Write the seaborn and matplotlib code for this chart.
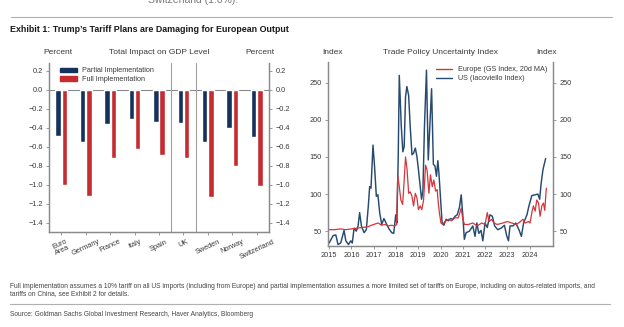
import matplotlib
matplotlib.use("Agg")
import matplotlib.pyplot as plt
import matplotlib.lines as mlines
import seaborn as sns
import pandas as pd
from matplotlib.patches import Patch

# ---------------- data ----------------
countries = ["Euro\nArea", "Germany", "France", "Italy", "Spain", "UK", "Sweden", "Norway", "Switzerland"]
partial_impl = [-0.49, -0.55, -0.36, -0.31, -0.34, -0.35, -0.55, -0.40, -0.50]
full_impl = [-1.00, -1.12, -0.72, -0.63, -0.69, -0.72, -1.13, -0.81, -1.02]
bar_series = ["Partial Implementation", "Full Implementation"]
left_yticks = [0.2, 0.0, -0.2, -0.4, -0.6, -0.8, -1.0, -1.2, -1.4]

us_dates = [2015.0, 2015.18, 2015.3, 2015.4, 2015.52, 2015.67, 2015.75, 2015.87, 2015.97, 2016.04,
            2016.12, 2016.22, 2016.3, 2016.37, 2016.45, 2016.57, 2016.67, 2016.76, 2016.82, 2016.88,
            2016.97, 2017.04, 2017.12, 2017.19, 2017.27, 2017.36, 2017.46, 2017.57, 2017.69, 2017.81,
            2017.9, 2017.99, 2018.04, 2018.1, 2018.15, 2018.24, 2018.31, 2018.37, 2018.43, 2018.49,
            2018.57, 2018.64, 2018.72, 2018.79, 2018.87, 2018.94, 2019.01, 2019.09, 2019.15, 2019.21,
            2019.28, 2019.37, 2019.45, 2019.52, 2019.6, 2019.68, 2019.75, 2019.82, 2019.88, 2019.93,
            2020.0, 2020.07, 2020.15, 2020.25, 2020.35, 2020.45, 2020.55, 2020.65, 2020.75, 2020.85,
            2020.93, 2021.0, 2021.07, 2021.15, 2021.3, 2021.45, 2021.55, 2021.63, 2021.72, 2021.82,
            2021.9, 2022.0, 2022.1, 2022.22, 2022.33, 2022.43, 2022.57, 2022.72, 2022.87, 2022.97,
            2023.05, 2023.12, 2023.25, 2023.38, 2023.52, 2023.63, 2023.73, 2023.88, 2023.97, 2024.1,
            2024.25, 2024.37, 2024.45, 2024.52, 2024.6, 2024.72]
us_values = [34, 44, 45, 32, 34, 51, 37, 32, 37, 34,
             54, 50, 57, 75, 57, 48, 52, 84, 110, 108,
             166, 137, 97, 99, 75, 59, 67, 60, 53, 48,
             47, 72, 61, 146, 260, 191, 157, 164, 231, 245,
             233, 191, 153, 155, 162, 151, 133, 110, 93, 104,
             191, 267, 146, 191, 242, 140, 138, 124, 145, 128,
             95, 62, 58, 66, 64, 67, 66, 70, 72, 82,
             99, 72, 39, 48, 50, 57, 43, 61, 47, 51,
             37, 61, 55, 72, 70, 57, 52, 54, 58, 44,
             37, 57, 57, 61, 52, 43, 61, 72, 84, 98,
             99, 100, 93, 115, 133, 148]

eu_dates = [2015.0, 2015.25, 2015.5, 2015.75, 2016.0, 2016.25, 2016.5, 2016.75, 2016.9, 2017.0,
            2017.1, 2017.2, 2017.35, 2017.5, 2017.65, 2017.8, 2017.95, 2018.03, 2018.08, 2018.15,
            2018.22, 2018.3, 2018.37, 2018.43, 2018.5, 2018.57, 2018.64, 2018.72, 2018.79, 2018.87,
            2018.94, 2019.01, 2019.09, 2019.16, 2019.24, 2019.33, 2019.4, 2019.48, 2019.55, 2019.63,
            2019.7, 2019.78, 2019.85, 2019.9, 2019.95, 2020.02, 2020.1, 2020.2, 2020.35, 2020.5,
            2020.65, 2020.8, 2020.93, 2021.0, 2021.08, 2021.25, 2021.45, 2021.65, 2021.85, 2022.0,
            2022.1, 2022.18, 2022.3, 2022.4, 2022.55, 2022.8, 2023.0, 2023.2, 2023.4, 2023.55,
            2023.7, 2023.8, 2023.95, 2024.02, 2024.1, 2024.17, 2024.25, 2024.32, 2024.4, 2024.47,
            2024.55, 2024.62, 2024.68, 2024.75]
eu_values = [52, 52, 53, 52, 53, 54, 55, 56, 58, 59,
             60, 61, 58, 59, 57, 58, 57, 59, 126, 110,
             92, 86, 119, 150, 133, 101, 103, 97, 84, 101,
             95, 79, 84, 79, 92, 139, 132, 101, 126, 110,
             119, 104, 106, 88, 75, 61, 59, 63, 66, 64,
             68, 68, 81, 66, 59, 59, 61, 57, 61, 59,
             75, 63, 66, 61, 59, 61, 63, 61, 59, 62,
             66, 61, 63, 61, 75, 84, 77, 92, 88, 70,
             84, 88, 78, 108]
line_series = ["Europe (GS Index, 20d MA)", "US (Iacoviello Index)"]
right_yticks = [50, 100, 150, 200, 250]
year_ticks = list(range(2015, 2025))

# ---------------- style ----------------
sns.set_style("ticks")
plt.rcParams["font.family"] = ["Liberation Sans", "DejaVu Sans"]
navy = "#13325c"
red = "#c42c30"
us_col = "#264a70"
eu_col = "#d5353b"
grey = "#8a8a8a"
txt = "#3a3a3a"

W, H = 624, 327
fig = plt.figure(figsize=(W / 100, H / 100), dpi=100)

def fx(px):
    return px / W

def fy(py):
    return 1 - py / H

# top cut-off text and rule
fig.text(fx(148), fy(5), "Switzerland (1.0%).", fontsize=7.5, color="#777777",
         ha="left", va="bottom")
fig.add_artist(mlines.Line2D([fx(11), fx(612)], [fy(17), fy(17)], color="#b0b0b0", lw=0.8))
fig.text(fx(10), fy(29), "Exhibit 1: Trump\u2019s Tariff Plans are Damaging for European Output",
         fontsize=6.4, fontweight="bold", color="#1a1a1a", ha="left", va="center")

# ---------------- left chart ----------------
axL = fig.add_axes([fx(49), fy(232), fx(220), (232 - 63) / H])
df_bar = pd.DataFrame({
    "country": countries * 2,
    "series": [bar_series[0]] * len(countries) + [bar_series[1]] * len(countries),
    "value": partial_impl + full_impl,
})
sns.barplot(data=df_bar, x="country", y="value", hue="series", hue_order=bar_series,
            palette=[navy, red], width=0.52, gap=0.13, ax=axL, legend=False,
            saturation=1, errorbar=None)
axL.set_xlim(-0.5, len(countries) - 0.5)
axL.set_ylim(-1.5, 0.28)
axL.set_yticks(left_yticks)
axL.set_yticklabels([f"{v:.1f}".replace("-", "\u2212") for v in left_yticks])
axL.axhline(0, color=grey, lw=0.8, zorder=0)
axL.axvline(4.5, color="#a0a0a0", lw=0.8)
axL.axvline(5.5, color="#a0a0a0", lw=0.8)
axL.set_xlabel("")
axL.set_ylabel("")
axL.set_xticks(range(len(countries)))
axL.set_xticklabels(countries, rotation=25, ha="center", fontsize=5.3, color=txt,
                    linespacing=0.9)
axR2 = axL.twinx()
axR2.set_ylim(axL.get_ylim())
axR2.set_yticks(left_yticks)
axR2.set_yticklabels([f"{v:.1f}".replace("-", "\u2212") for v in left_yticks])
for a in (axL, axR2):
    a.spines["top"].set_visible(False)
    for s in ("left", "right", "bottom"):
        a.spines[s].set_color(grey)
        a.spines[s].set_linewidth(0.9)
    a.tick_params(axis="both", length=2.5, width=0.6, color=grey, labelsize=5.3,
                  labelcolor=txt, pad=2)
handlesL = [Patch(color=navy, label=bar_series[0]), Patch(color=red, label=bar_series[1])]
axL.legend(handles=handlesL, loc="upper left", bbox_to_anchor=(0.03, 1.0), frameon=False,
           fontsize=5.2, handlelength=2.3, handleheight=0.55, labelspacing=0.25,
           handletextpad=0.8, borderaxespad=0.2, labelcolor=txt)

fig.text(fx(58), fy(52), "Percent", fontsize=6, color=txt, ha="center", va="center")
fig.text(fx(159), fy(52), "Total Impact on GDP Level", fontsize=6, color=txt, ha="center", va="center")
fig.text(fx(260), fy(52), "Percent", fontsize=6, color=txt, ha="center", va="center")

# ---------------- right chart ----------------
axT = fig.add_axes([fx(328), fy(246), fx(225), (246 - 62) / H])
df_us = pd.DataFrame({"date": us_dates, "value": us_values})
df_eu = pd.DataFrame({"date": eu_dates, "value": eu_values})
sns.lineplot(data=df_us, x="date", y="value", color=us_col, lw=1.05, ax=axT)
sns.lineplot(data=df_eu, x="date", y="value", color=eu_col, lw=0.9, ax=axT)
axT.set_xlim(2014.95, 2025.05)
axT.set_ylim(30, 278)
axT.set_yticks(right_yticks)
axT.set_xticks(year_ticks)
axT.set_xticklabels([str(y) for y in year_ticks])
axT.set_xlabel("")
axT.set_ylabel("")
axT2 = axT.twinx()
axT2.set_ylim(axT.get_ylim())
axT2.set_yticks(right_yticks)
for a in (axT, axT2):
    a.spines["top"].set_visible(False)
    for s in ("left", "right", "bottom"):
        a.spines[s].set_color(grey)
        a.spines[s].set_linewidth(0.9)
    a.tick_params(axis="both", length=2.5, width=0.6, color=grey, labelsize=5.3,
                  labelcolor=txt, pad=2)
handlesT = [mlines.Line2D([], [], color=eu_col, lw=1.0, label=line_series[0]),
            mlines.Line2D([], [], color=us_col, lw=1.0, label=line_series[1])]
axT.legend(handles=handlesT, loc="upper left", bbox_to_anchor=(0.46, 1.0), frameon=False,
           fontsize=5.2, handlelength=2.2, labelspacing=0.25, handletextpad=0.8,
           borderaxespad=0.2, labelcolor=txt)

fig.text(fx(333), fy(52), "Index", fontsize=6, color=txt, ha="center", va="center")
fig.text(fx(440), fy(52), "Trade Policy Uncertainty Index", fontsize=6, color=txt, ha="center", va="center")
fig.text(fx(547), fy(52), "Index", fontsize=6, color=txt, ha="center", va="center")

# ---------------- footnotes ----------------
fs_note = 4.75
fig.text(fx(10), fy(286),
         "Full implementation assumes a 10% tariff on all US imports (including from Europe) and partial "
         "implementation assumes a more limited set of tariffs on Europe, including on autos-related imports, and",
         fontsize=fs_note, color="#444444", ha="left", va="center")
fig.text(fx(10), fy(294), "tariffs on China, see Exhibit 2 for details.",
         fontsize=fs_note, color="#444444", ha="left", va="center")
fig.add_artist(mlines.Line2D([fx(10), fx(610)], [fy(304), fy(304)], color="#b0b0b0", lw=0.8))
fig.text(fx(10), fy(314), "Source: Goldman Sachs Global Investment Research, Haver Analytics, Bloomberg",
         fontsize=fs_note, color="#444444", ha="left", va="center")

fig.savefig("out.png", dpi=100)
